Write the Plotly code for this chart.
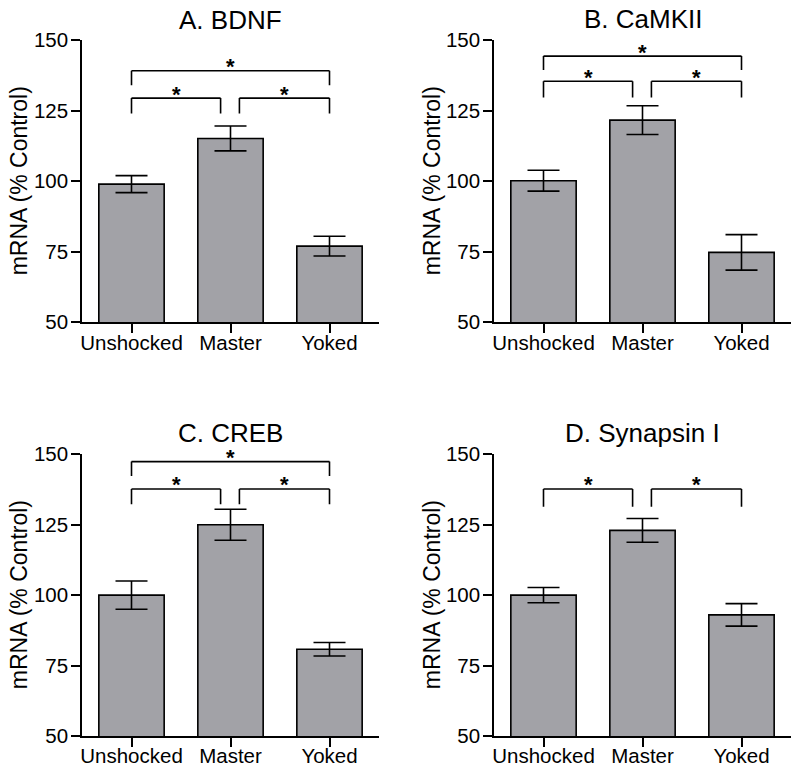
import plotly.graph_objects as go

categories = ["Unshocked", "Master", "Yoked"]

bdnf_mean = [99, 115.2, 77]
bdnf_sem = [3, 4.4, 3.5]
camkii_mean = [100.2, 121.7, 74.8]
camkii_sem = [3.7, 5.1, 6.3]
creb_mean = [100, 125, 80.8]
creb_sem = [5, 5.5, 2.4]
syn_mean = [100, 123, 93]
syn_sem = [2.7, 4.2, 4]

titles = ["A. BDNF", "B. CaMKII", "C. CREB", "D. Synapsin I"]
y_title = "mRNA (% Control)"

# significance brackets: (start category index, end category index, bar height, leg bottom)
brackets_a = [(0, 0.9, 129.5, 124), (1.09, 2, 129.5, 124), (0, 2, 139.2, 134.1)]
brackets_b = [(0, 0.9, 135.5, 129.7), (1.09, 2, 135.5, 129.7), (0, 2, 144.4, 139.5)]
brackets_c = [(0, 0.9, 137.7, 132.3), (1.09, 2, 137.7, 132.3), (0, 2, 147.4, 142.3)]
brackets_d = [(0, 0.9, 137.7, 131.4), (1.09, 2, 137.7, 131.4)]

panels = [
    (bdnf_mean, bdnf_sem, brackets_a),
    (camkii_mean, camkii_sem, brackets_b),
    (creb_mean, creb_sem, brackets_c),
    (syn_mean, syn_sem, brackets_d),
]

# page has an 8px body margin; lay out in figure pixels = reference pixels - 8
OFF = 8
W, H = 784, 756
def px(v):
    return (v - OFF) / W
def py(v):
    return 1 - (v - OFF) / H

xdoms = [(px(82), px(379)), (px(494), px(791))]
ydoms = [(py(322.3), py(40.3)), (py(736), py(454.3))]
title_y = [20, 19, 433, 433]
ytitle_x = [19, 432]

FONT = "Arial, Liberation Sans, sans-serif"
fig = go.Figure()
shapes = []
annotations = []

for i, (mean, sem, brackets) in enumerate(panels):
    n = i + 1
    xa = "x" if n == 1 else f"x{n}"
    ya = "y" if n == 1 else f"y{n}"
    fig.add_trace(go.Bar(
        x=list(range(len(categories))), y=mean, base=0,
        width=0.66,
        marker=dict(color="#a2a2a7", line=dict(color="black", width=1.6)),
        error_y=dict(type="data", array=sem, visible=True, color="black",
                     thickness=1.6, width=16),
        xaxis=xa, yaxis=ya, showlegend=False, hoverinfo="skip",
    ))
    col = i % 2
    row = i // 2
    axis_common = dict(showline=True, linecolor="black", linewidth=1.6,
                       ticks="outside", ticklen=9, tickwidth=1.6, tickcolor="black",
                       showgrid=False, zeroline=False, automargin=False,
                       tickfont=dict(family=FONT, size=20.5, color="black"))
    fig.update_layout(**{
        ("xaxis" if n == 1 else f"xaxis{n}"): dict(
            domain=list(xdoms[col]), range=[-0.5, 2.5], anchor=ya,
            tickmode="array", tickvals=list(range(len(categories))), ticktext=categories,
            ticklabelstandoff=-8,
            **axis_common),
        ("yaxis" if n == 1 else f"yaxis{n}"): dict(
            domain=list(ydoms[row]), range=[50, 150], anchor=xa,
            tickmode="array", tickvals=[50, 75, 100, 125, 150],
            ticklabelstandoff=-1,
            **axis_common),
    })
    for (x0, x1, ytop, ybot) in brackets:
        for seg in [(x0, ybot, x0, ytop), (x0, ytop, x1, ytop), (x1, ytop, x1, ybot)]:
            shapes.append(dict(type="line", xref=xa, yref=ya,
                               x0=seg[0], y0=seg[1], x1=seg[2], y1=seg[3],
                               line=dict(color="black", width=1.6)))
        annotations.append(dict(x=(x0 + x1) / 2, y=ytop, xref=xa, yref=ya,
                                text="<b>*</b>", showarrow=False, xanchor="center",
                                yanchor="middle", yshift=4,
                                font=dict(family=FONT, size=22, color="black")))
    xc = (xdoms[col][0] + xdoms[col][1]) / 2
    annotations.append(dict(x=xc, y=py(title_y[i]), xref="paper", yref="paper",
                            text=titles[i], showarrow=False, xanchor="center",
                            yanchor="middle",
                            font=dict(family=FONT, size=26, color="black")))
    yc = (ydoms[row][0] + ydoms[row][1]) / 2
    annotations.append(dict(x=px(ytitle_x[col]), y=yc, xref="paper", yref="paper",
                            text=y_title, textangle=-90, showarrow=False,
                            xanchor="center", yanchor="middle",
                            font=dict(family=FONT, size=23, color="black")))

fig.update_layout(width=W, height=H,
                  margin=dict(l=0, r=0, t=0, b=0, autoexpand=False),
                  plot_bgcolor="white", paper_bgcolor="white",
                  shapes=shapes, annotations=annotations)
fig.write_html("out.html")
